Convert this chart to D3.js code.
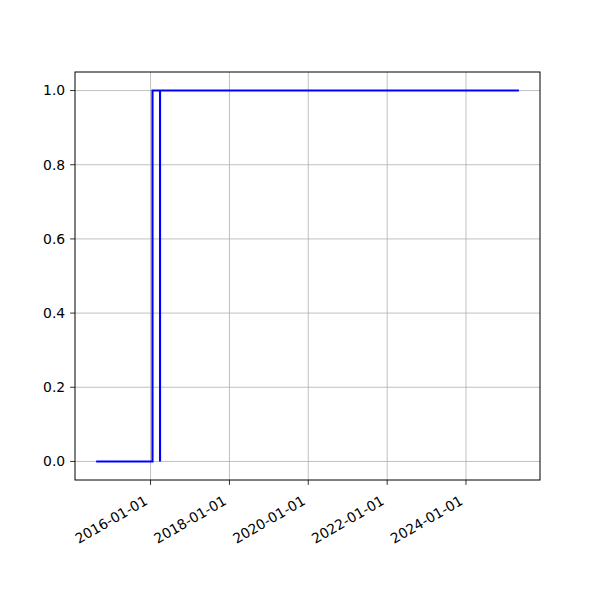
<!DOCTYPE html>
<html><head><meta charset="utf-8">
<script src="https://cdn.jsdelivr.net/npm/d3@7"></script>
<style>body{margin:0;background:#fff}svg{display:block}text{font-family:"DejaVu Sans",sans-serif}</style>
</head><body>
<svg id="c" width="600" height="600"></svg>
<script>
const dates = ["2014-08-15","2016-01-19","2016-03-29","2016-03-29","2025-05-05"];
const values = [0,1,0,1,1];
const xTickLabels = ["2016-01-01","2018-01-01","2020-01-01","2022-01-01","2024-01-01"];
const yTicks = [0.0,0.2,0.4,0.6,0.8,1.0];

const parse = d3.utcParse("%Y-%m-%d");
const pts = dates.map((d,i)=>({t:parse(d), v:values[i]}));
const L=75, R=540, T=72, B=480;
const svg = d3.select("#c");
const ext = d3.extent(pts, d=>d.t);
const span = ext[1]-ext[0];
const x = d3.scaleUtc().domain([new Date(+ext[0]-span*0.05), new Date(+ext[1]+span*0.05)]).range([L,R]);
const y = d3.scaleLinear().domain([-0.05,1.05]).range([B,T]);

const xt = xTickLabels.map(parse);
// grid
svg.append("g").selectAll("line").data(xt).join("line")
  .attr("x1",d=>x(d)).attr("x2",d=>x(d)).attr("y1",T).attr("y2",B)
  .attr("stroke","#b0b0b0").attr("stroke-width",0.8);
svg.append("g").selectAll("line").data(yTicks).join("line")
  .attr("x1",L).attr("x2",R).attr("y1",d=>y(d)).attr("y2",d=>y(d))
  .attr("stroke","#b0b0b0").attr("stroke-width",0.8);

// line
const line = d3.line().x(d=>x(d.t)).y(d=>y(d.v)).curve(d3.curveStepAfter);
svg.append("path").datum(pts).attr("d",line).attr("fill","none")
  .attr("stroke","#0000ff").attr("stroke-width",2.1).attr("stroke-linejoin","miter");

// frame
svg.append("rect").attr("x",L).attr("y",T).attr("width",R-L).attr("height",B-T)
  .attr("fill","none").attr("stroke","#000").attr("stroke-width",1);

// x axis ticks
const gx = svg.append("g");
gx.selectAll("line").data(xt).join("line")
  .attr("x1",d=>x(d)).attr("x2",d=>x(d)).attr("y1",B).attr("y2",B+4.9)
  .attr("stroke","#000").attr("stroke-width",0.8);
gx.selectAll("text").data(xt).join("text")
  .attr("transform",d=>`translate(${x(d)-7.5},${B+14}) rotate(-30)`)
  .attr("text-anchor","end").attr("dy","0.8em")
  .attr("font-size","13.9px").attr("fill","#000")
  .text((d,i)=>xTickLabels[i]);

// y axis
const gy = svg.append("g");
gy.selectAll("line").data(yTicks).join("line")
  .attr("x1",L-4.9).attr("x2",L).attr("y1",d=>y(d)).attr("y2",d=>y(d))
  .attr("stroke","#000").attr("stroke-width",0.8);
gy.selectAll("text").data(yTicks).join("text")
  .attr("x",L-9.8).attr("y",d=>y(d)).attr("dy","0.35em")
  .attr("text-anchor","end").attr("font-size","13.9px").attr("fill","#000")
  .text(d=>d.toFixed(1));
</script>
</body></html>
